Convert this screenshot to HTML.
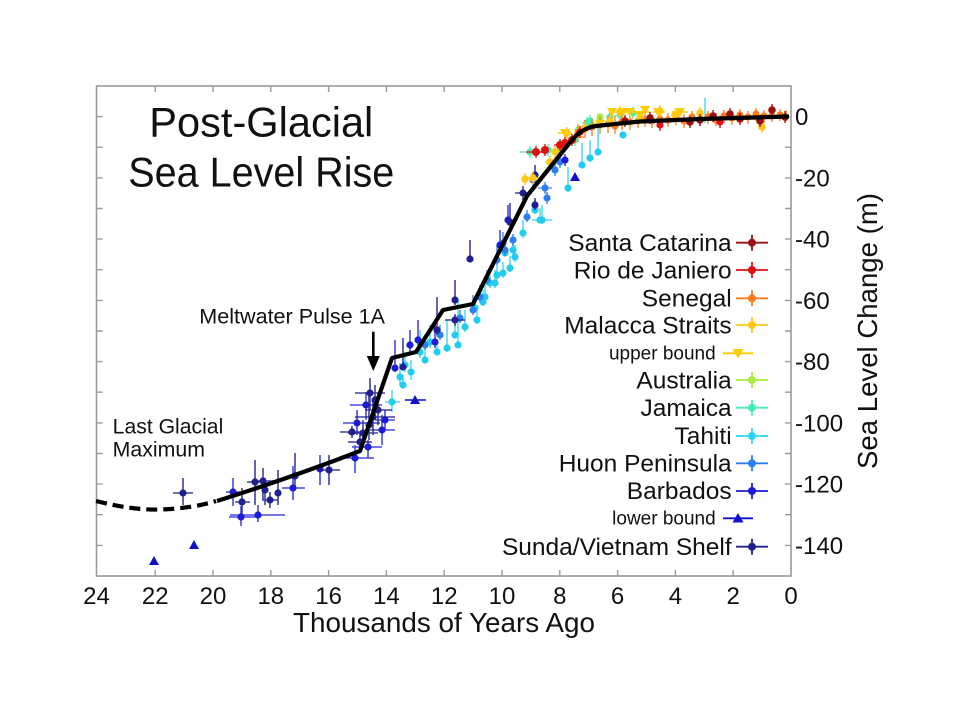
<!DOCTYPE html>
<html><head><meta charset="utf-8"><style>
html,body{margin:0;padding:0;background:#fff;}
svg{display:block;}
text{font-family:"Liberation Sans",Arial,sans-serif;fill:#111;}
</style></head><body>
<svg width="960" height="720" viewBox="0 0 960 720" xmlns="http://www.w3.org/2000/svg">
<rect width="960" height="720" fill="#fff"/>

<!-- frame -->
<rect x="96.5" y="86" width="694.5" height="490" fill="none" stroke="#9a9a9a" stroke-width="1.6"/>
<!-- ticks -->
<g stroke="#9a9a9a" stroke-width="1.4">
<path d="M96.5,116.6h6M96.5,147.2h6M96.5,177.9h6M96.5,208.5h6M96.5,239.1h6M96.5,269.7h6M96.5,300.4h6M96.5,331h6M96.5,361.6h6M96.5,392.2h6M96.5,422.9h6M96.5,453.5h6M96.5,484.1h6M96.5,514.7h6M96.5,545.4h6"/>
<path d="M791,116.6h-6M791,147.2h-6M791,177.9h-6M791,208.5h-6M791,239.1h-6M791,269.7h-6M791,300.4h-6M791,331h-6M791,361.6h-6M791,392.2h-6M791,422.9h-6M791,453.5h-6M791,484.1h-6M791,514.7h-6M791,545.4h-6"/>
<path d="M155.2,576v-6M213,576v-6M270.8,576v-6M328.6,576v-6M386.4,576v-6M444.2,576v-6M502,576v-6M559.8,576v-6M617.6,576v-6M675.4,576v-6M733.2,576v-6"/>
<path d="M155.2,86v6M213,86v6M270.8,86v6M328.6,86v6M386.4,86v6M444.2,86v6M502,86v6M559.8,86v6M617.6,86v6M675.4,86v6M733.2,86v6"/>
</g>

<!-- x tick labels -->
<g font-size="24" text-anchor="middle">
<text x="96.5" y="604">24</text><text x="155.2" y="604">22</text><text x="213" y="604">20</text>
<text x="270.8" y="604">18</text><text x="328.6" y="604">16</text><text x="386.4" y="604">14</text>
<text x="444.2" y="604">12</text><text x="502" y="604">10</text><text x="559.8" y="604">8</text>
<text x="617.6" y="604">6</text><text x="675.4" y="604">4</text><text x="733.2" y="604">2</text>
<text x="791" y="604">0</text>
</g>
<!-- y tick labels -->
<g font-size="24">
<text x="795" y="125">0</text><text x="795" y="186.4">-20</text><text x="795" y="247.6">-40</text>
<text x="795" y="308.9">-60</text><text x="795" y="370.1">-80</text><text x="795" y="431.4">-100</text>
<text x="795" y="492.6">-120</text><text x="795" y="553.9">-140</text>
</g>
<text x="444" y="632" font-size="27.5" text-anchor="middle" textLength="302" lengthAdjust="spacingAndGlyphs">Thousands of Years Ago</text>
<text transform="translate(877,331) rotate(-90)" font-size="27.5" text-anchor="middle" textLength="276" lengthAdjust="spacingAndGlyphs">Sea Level Change (m)</text>

<!-- title -->
<text x="261.3" y="136.7" font-size="41.5" text-anchor="middle" textLength="224" lengthAdjust="spacingAndGlyphs">Post-Glacial</text>
<text x="261.3" y="186.7" font-size="41.5" text-anchor="middle" textLength="266" lengthAdjust="spacingAndGlyphs">Sea Level Rise</text>

<!-- annotations -->
<text x="199.3" y="323.3" font-size="21" textLength="185.7" lengthAdjust="spacingAndGlyphs">Meltwater Pulse 1A</text>
<path d="M373.3,331.7V360" stroke="#000" stroke-width="2.6"/>
<polygon points="366.8,356 379.8,356 373.3,371" fill="#000"/>
<text x="112.7" y="433.3" font-size="21" textLength="110.6" lengthAdjust="spacingAndGlyphs">Last Glacial</text>
<text x="112.7" y="456.7" font-size="21" textLength="92.3" lengthAdjust="spacingAndGlyphs">Maximum</text>

<!-- DATA -->
<!-- Tahiti -->
<g stroke="#2ad6f2" stroke-width="1.6" stroke-opacity="0.8">
<path d="M392,390V412M385,402H400M400,363V385M405,352V372M411,360V380M420,330V358M430,325V348M447,320V352M458,300V348M465,310V332M477,305V324M483,290V306M495,270V288M503,262V278M510,256V272M513,240V256M475,296V312M485,285V300M490,275V288M497,265V280M515,245V262M535,200V214M542,205V224M532,220H552M523,220V238M568,167V192M582,143V168M590,140V162M598,127V155M705,98V123M455,325V338M437,340V355M425,350V363M403,375V388M540,208V222M505,244V256"/>
</g>
<g fill="#22ccee">
<circle cx="392" cy="402" r="3.6"/><circle cx="400" cy="377" r="3.6"/><circle cx="405" cy="365" r="3.6"/><circle cx="411" cy="372" r="3.6"/><circle cx="420" cy="352" r="3.6"/><circle cx="430" cy="342" r="3.6"/><circle cx="447" cy="348" r="3.6"/><circle cx="458" cy="345" r="3.6"/><circle cx="465" cy="327" r="3.6"/><circle cx="477" cy="320" r="3.6"/><circle cx="483" cy="302" r="3.6"/><circle cx="495" cy="283" r="3.6"/><circle cx="503" cy="273" r="3.6"/><circle cx="510" cy="268" r="3.6"/><circle cx="513" cy="250" r="3.6"/><circle cx="475" cy="308" r="3.6"/><circle cx="485" cy="297" r="3.6"/><circle cx="490" cy="283" r="3.6"/><circle cx="497" cy="275" r="3.6"/><circle cx="515" cy="257" r="3.6"/><circle cx="535" cy="210" r="3.6"/><circle cx="542" cy="220" r="3.6"/><circle cx="523" cy="233" r="3.6"/><circle cx="568" cy="188" r="3.6"/><circle cx="582" cy="165" r="3.6"/><circle cx="590" cy="158" r="3.6"/><circle cx="598" cy="152" r="3.6"/><circle cx="623" cy="135" r="3.6"/><circle cx="455" cy="335" r="3.6"/><circle cx="437" cy="352" r="3.6"/><circle cx="425" cy="360" r="3.6"/><circle cx="403" cy="385" r="3.6"/><circle cx="540" cy="220" r="3.6"/><circle cx="505" cy="253" r="3.6"/>
</g>
<!-- Huon -->
<g stroke="#2d7ff0" stroke-width="1.6" stroke-opacity="0.8">
<path d="M473,295V315M480,285V302M487,270V285M497,245V265M503,232V248M545,182V194M547,192V204M527,210V222M513,234V246M505,244V256M533,174V186M440,325V340M425,338V350M460,310V323M555,164V176M560,156V168M538,188H552"/>
</g>
<g fill="#2d7ff0">
<circle cx="473" cy="310" r="3.6"/><circle cx="480" cy="297" r="3.6"/><circle cx="487" cy="280" r="3.6"/><circle cx="497" cy="260" r="3.6"/><circle cx="503" cy="243" r="3.6"/><circle cx="545" cy="188" r="3.6"/><circle cx="547" cy="198" r="3.6"/><circle cx="527" cy="217" r="3.6"/><circle cx="513" cy="240" r="3.6"/><circle cx="505" cy="250" r="3.6"/><circle cx="533" cy="180" r="3.6"/><circle cx="440" cy="335" r="3.6"/><circle cx="425" cy="345" r="3.6"/><circle cx="460" cy="318" r="3.6"/><circle cx="555" cy="170" r="3.6"/><circle cx="560" cy="162" r="3.6"/>
</g>
<!-- Barbados -->
<g stroke="#1c1cd6" stroke-width="1.6" stroke-opacity="0.8">
<path d="M410,330V352M418,320V345M435,325V348M500,230V250M508,205V225M565,154V166M395,340V372M233,478V506M226,492H240M241,506V526M229,517H260M258,505V522M230,515H285M293,466V500M282,488H305M320,455V485M355,445V473M340,458H374M357,410V435M343,423H380M382,415V445M370,430H395M366,392V420M350,405H382M368,440V458M352,447H382M385,410V430M375,420H395"/>
</g>
<g fill="#1c1cd6">
<circle cx="410" cy="345" r="3.6"/><circle cx="418" cy="340" r="3.6"/><circle cx="435" cy="342" r="3.6"/><circle cx="500" cy="245" r="3.6"/><circle cx="508" cy="220" r="3.6"/><circle cx="565" cy="160" r="3.6"/><circle cx="395" cy="368" r="3.6"/><circle cx="233" cy="492" r="3.6"/><circle cx="241" cy="517" r="3.6"/><circle cx="258" cy="515" r="3.6"/><circle cx="293" cy="488" r="3.6"/><circle cx="320" cy="469" r="3.6"/><circle cx="355" cy="458" r="3.6"/><circle cx="357" cy="423" r="3.6"/><circle cx="382" cy="430" r="3.6"/><circle cx="366" cy="405" r="3.6"/><circle cx="368" cy="447" r="3.6"/><circle cx="385" cy="420" r="3.6"/>
</g>
<!-- Sunda -->
<g stroke="#20208c" stroke-width="1.6" stroke-opacity="0.85">
<path d="M183,478V505M173,493H193M242,488V515M235,502H250M255,460V505M247,482H263M263,468V500M253,481H275M265,478V505M270,492V508M262,500H278M278,470V505M295,453V486M329,455V485M318,470H340M370,378V410M355,393H385M373,400V435M355,417H395M363,420V448M348,433H378M378,398V425M365,410H392M360,432V452M348,442H372M369,395V440M375,385V415M352,426V438M340,432H365M403,338V370M437,297V335M455,280V305M455,314V326M445,320H465M470,240V262M510,203V226M523,186V200M515,193H532M535,198V210M535,165V178"/>
</g>
<g fill="#20208c">
<circle cx="183" cy="493" r="3.6"/><circle cx="242" cy="502" r="3.6"/><circle cx="255" cy="482" r="3.6"/><circle cx="263" cy="481" r="3.6"/><circle cx="265" cy="490" r="3.6"/><circle cx="270" cy="500" r="3.6"/><circle cx="278" cy="493" r="3.6"/><circle cx="295" cy="476" r="3.6"/><circle cx="329" cy="470" r="3.6"/><circle cx="370" cy="393" r="3.6"/><circle cx="373" cy="417" r="3.6"/><circle cx="363" cy="433" r="3.6"/><circle cx="378" cy="410" r="3.6"/><circle cx="360" cy="442" r="3.6"/><circle cx="369" cy="425" r="3.6"/><circle cx="375" cy="400" r="3.6"/><circle cx="352" cy="432" r="3.6"/><circle cx="403" cy="367" r="3.6"/><circle cx="437" cy="330" r="3.6"/><circle cx="455" cy="300" r="3.6"/><circle cx="455" cy="320" r="3.6"/><circle cx="470" cy="259" r="3.6"/><circle cx="510" cy="222" r="3.6"/><circle cx="523" cy="193" r="3.6"/><circle cx="535" cy="205" r="3.6"/><circle cx="535" cy="175" r="3.6"/>
</g>
<!-- lower bound triangles -->
<path d="M405,400H426" stroke="#1111cc" stroke-width="1.6"/>
<g fill="#1111cc">
<polygon points="149,565 159,565 154,556"/><polygon points="189,549 199,549 194,540"/><polygon points="410,404 420,404 415,395"/><polygon points="570,181 580,181 575,172"/>
</g>
<!-- Jamaica -->
<g stroke="#48eeb0" stroke-width="1.6" stroke-opacity="0.85">
<path d="M520,152H545M530,146V158M587,117V129M600,114V126M575,134V146M548,144V156M610,111V123M633,107V119M620,109V121M590,115V127M582,123H595M628,113H640"/>
</g>
<g fill="#48eeb0">
<circle cx="530" cy="152" r="3.6"/><circle cx="587" cy="123" r="3.6"/><circle cx="600" cy="120" r="3.6"/><circle cx="575" cy="140" r="3.6"/><circle cx="548" cy="150" r="3.6"/><circle cx="610" cy="117" r="3.6"/><circle cx="633" cy="113" r="3.6"/><circle cx="620" cy="115" r="3.6"/><circle cx="590" cy="121" r="3.6"/>
</g>
<!-- Australia -->
<g fill="#a8ee3a"><circle cx="560" cy="150" r="3.6"/><circle cx="578" cy="130" r="3.6"/><circle cx="600" cy="117" r="3.6"/></g>
<!-- Senegal -->
<g stroke="#ff7a1a" stroke-width="1.6" stroke-opacity="0.8">
<path d="M578,124V142M585,120V138M592,118V136M600,117V134M608,116V133M615,115V134M622,116V130M630,114V130M638,115V128M645,113V127M652,114V128M660,112V126M668,113V127M676,112V125M684,114V128M692,111V124M700,112V126M708,111V124M716,113V126M724,110V123M732,111V125M740,109V122M748,111V124M756,108V121M764,110V123M772,110V122M780,109V121M786,110V121M574,137H584M596,125H606M620,122H630M650,120H660M680,120H690M705,118H715M735,116H745M760,115H770"/>
</g>
<g fill="#ff7a1a">
<circle cx="578" cy="133" r="3.6"/><circle cx="585" cy="129" r="3.6"/><circle cx="592" cy="127" r="3.6"/><circle cx="600" cy="125" r="3.6"/><circle cx="608" cy="124" r="3.6"/><circle cx="615" cy="126" r="3.6"/><circle cx="622" cy="122" r="3.6"/><circle cx="630" cy="122" r="3.6"/><circle cx="638" cy="121" r="3.6"/><circle cx="645" cy="120" r="3.6"/><circle cx="652" cy="121" r="3.6"/><circle cx="660" cy="119" r="3.6"/><circle cx="668" cy="120" r="3.6"/><circle cx="676" cy="118" r="3.6"/><circle cx="684" cy="121" r="3.6"/><circle cx="692" cy="117" r="3.6"/><circle cx="700" cy="119" r="3.6"/><circle cx="708" cy="117" r="3.6"/><circle cx="716" cy="120" r="3.6"/><circle cx="724" cy="116" r="3.6"/><circle cx="732" cy="118" r="3.6"/><circle cx="740" cy="115" r="3.6"/><circle cx="748" cy="117" r="3.6"/><circle cx="756" cy="114" r="3.6"/><circle cx="764" cy="116" r="3.6"/><circle cx="772" cy="116" r="3.6"/><circle cx="780" cy="115" r="3.6"/>
</g>
<!-- Malacca -->
<g stroke="#ffc81a" stroke-width="1.6" stroke-opacity="0.85">
<path d="M555,146V158M567,127V139M523,178H540M533,172V184M525,173V185M550,156V168M620,106V118M660,105V117M762,121V133M610,115V127M700,107V119M585,122V134M640,112V124M675,109V121M545,162H556"/>
</g>
<g fill="#ffc81a">
<circle cx="555" cy="152" r="3.8"/><circle cx="567" cy="133" r="3.8"/><circle cx="533" cy="178" r="3.8"/><circle cx="525" cy="179" r="3.8"/><circle cx="550" cy="162" r="3.8"/><circle cx="620" cy="112" r="3.8"/><circle cx="660" cy="111" r="3.8"/><circle cx="762" cy="127" r="3.8"/><circle cx="610" cy="121" r="3.8"/><circle cx="700" cy="113" r="3.8"/><circle cx="585" cy="128" r="3.8"/><circle cx="640" cy="118" r="3.8"/><circle cx="675" cy="115" r="3.8"/>
</g>
<!-- upper bound -->
<path d="M615,112H650M653,112H665M672,112H688M593,124H607M558,133H572" stroke="#ffcc00" stroke-width="1.6"/>
<g fill="#ffcc00">
<polygon points="560,129 570,129 565,138"/><polygon points="618,108 628,108 623,117"/><polygon points="625,108 635,108 630,117"/><polygon points="635,111 645,111 640,120"/><polygon points="653,108 663,108 658,117"/><polygon points="675,108 685,108 680,117"/><polygon points="595,120 605,120 600,129"/><polygon points="607,108 617,108 612,117"/><polygon points="640,106 650,106 645,115"/>
</g>
<!-- Rio -->
<g stroke="#e01010" stroke-width="1.6" stroke-opacity="0.85">
<path d="M526,152H548M536,146V158M545,144V156M560,139V151M554,145H568M565,137V149M572,134V146M580,126V138M660,119V131M720,116V128"/>
</g>
<g fill="#e01010">
<circle cx="536" cy="152" r="4"/><circle cx="545" cy="150" r="4"/><circle cx="560" cy="145" r="4"/><circle cx="565" cy="143" r="4"/><circle cx="572" cy="140" r="4"/><circle cx="580" cy="132" r="3.6"/><circle cx="660" cy="125" r="3.6"/><circle cx="720" cy="122" r="3.6"/>
</g>
<!-- Santa Catarina -->
<g stroke="#9b1010" stroke-width="1.6" stroke-opacity="0.85">
<path d="M625,115V127M713,110V122M772,104V116M690,116V128M740,113V125M760,115V127M650,112V124M700,114V126M730,108V120M785,111V123"/>
</g>
<g fill="#9b1010">
<circle cx="625" cy="121" r="3.8"/><circle cx="713" cy="116" r="3.8"/><circle cx="772" cy="110" r="3.8"/><circle cx="690" cy="122" r="3.8"/><circle cx="740" cy="119" r="3.8"/><circle cx="760" cy="121" r="3.8"/><circle cx="650" cy="118" r="3.8"/><circle cx="700" cy="120" r="3.8"/><circle cx="730" cy="114" r="3.8"/><circle cx="785" cy="117" r="3.8"/>
</g>

<!-- main curve -->
<path d="M96,501 C120,507 140,510 160,509.5 C180,509 200,506 216,501" fill="none" stroke="#000" stroke-width="4.2" stroke-dasharray="11,6"/>
<path d="M217,501 Q290,478 360,451 L392,358 L416,352 L443,310 L473,304 L527,196 L572,140 Q582,128 596,126 L640,121.5 L700,119 L789,116.5" fill="none" stroke="#000" stroke-width="4.2" stroke-linejoin="round"/>

<!-- legend -->
<g font-size="24.5" text-anchor="end">
<text x="731.7" y="251">Santa Catarina</text>
<text x="731.7" y="278.5">Rio de Janiero</text>
<text x="731.7" y="306.5">Senegal</text>
<text x="731.7" y="333.5">Malacca Straits</text>
<text x="731.7" y="388.5">Australia</text>
<text x="731.7" y="416">Jamaica</text>
<text x="731.7" y="444">Tahiti</text>
<text x="731.7" y="471.5">Huon Peninsula</text>
<text x="731.7" y="499">Barbados</text>
<text x="731.7" y="555">Sunda/Vietnam Shelf</text>
</g>
<g font-size="19" text-anchor="end">
<text x="715.7" y="359.5">upper bound</text>
<text x="715.7" y="524.5">lower bound</text>
</g>
<g stroke-width="1.8">
<path d="M736,242.7H768M752,234.7V250.7" stroke="#9b1010"/>
<path d="M736,270H768M752,262V278" stroke="#e01010"/>
<path d="M736,298.3H768M752,290.3V306.3" stroke="#ff7a1a"/>
<path d="M736,325H768M752,317V333" stroke="#ffc81a"/>
<path d="M723,353.3H753" stroke="#ffcc00"/>
<path d="M736,380H768M752,372V388" stroke="#a8ee3a"/>
<path d="M736,407.7H768M752,399.7V415.7" stroke="#48eeb0"/>
<path d="M736,436H768M752,428V444" stroke="#2ad6f2"/>
<path d="M736,463.3H768M752,455.3V471.3" stroke="#2d7ff0"/>
<path d="M736,491H768M752,483V499" stroke="#1c1cd6"/>
<path d="M723,518.3H753" stroke="#1111cc"/>
<path d="M736,546.7H768M752,538.7V554.7" stroke="#20208c"/>
</g>
<circle cx="752" cy="242.7" r="4" fill="#9b1010"/>
<circle cx="752" cy="270" r="4" fill="#e01010"/>
<circle cx="752" cy="298.3" r="4" fill="#ff7a1a"/>
<circle cx="752" cy="325" r="4" fill="#ffc81a"/>
<polygon points="732.5,349 743.5,349 738,358.5" fill="#ffcc00"/>
<circle cx="752" cy="380" r="4" fill="#a8ee3a"/>
<circle cx="752" cy="407.7" r="4" fill="#48eeb0"/>
<circle cx="752" cy="436" r="4" fill="#2ad6f2"/>
<circle cx="752" cy="463.3" r="4" fill="#2d7ff0"/>
<circle cx="752" cy="491" r="4" fill="#1c1cd6"/>
<polygon points="732.5,522.5 743.5,522.5 738,513" fill="#1111cc"/>
<circle cx="752" cy="546.7" r="4" fill="#20208c"/>
</svg>
</body></html>
